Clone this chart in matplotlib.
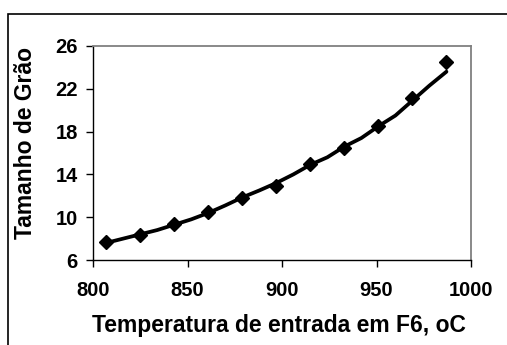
import matplotlib
matplotlib.use("Agg")
import matplotlib.pyplot as plt
from matplotlib.patches import Rectangle

# measured points (diamonds)
temp = [807, 825, 843, 861, 879, 897, 915, 933, 951, 969, 987]
grain = [7.7, 8.3, 9.4, 10.5, 11.8, 12.9, 15.0, 16.5, 18.55, 21.1, 24.5]

# smoothed curve drawn through the points
curve_temp = [807, 816, 825, 834, 843, 852, 861, 870, 879, 888, 897, 906,
              915, 924, 933, 942, 951, 960, 969, 978, 987]
curve_grain = [7.6, 8.0, 8.4, 8.8, 9.3, 9.8, 10.4, 11.1, 11.85, 12.5, 13.2, 14.0,
               14.9, 15.6, 16.6, 17.4, 18.5, 19.5, 20.9, 22.3, 23.6]

xticks = [800, 850, 900, 950, 1000]
yticks = [6, 10, 14, 18, 22, 26]

plt.rcParams['font.family'] = ['Liberation Sans', 'DejaVu Sans']
plt.rcParams['font.weight'] = 'bold'

fig = plt.figure(figsize=(5.07, 3.45), dpi=100)
ax = fig.add_axes([93/507, 1 - 260/345, (471-93)/507, (260-46)/345])

# outer frame of the chart area (runs off right and bottom)
fig.patches.append(Rectangle((8/507, -0.1), 1.2, 1 - 14/345 + 0.1,
                             transform=fig.transFigure, fill=False,
                             edgecolor='black', linewidth=1.2))

ax.plot(curve_temp, curve_grain, color='black', linewidth=2.7,
        solid_capstyle='round', zorder=2)
ax.plot(temp, grain, linestyle='none', marker='D', markersize=7,
        color='black', zorder=3)

ax.set_xlim(800, 1000)
ax.set_ylim(6, 26)
ax.set_xticks(xticks)
ax.set_yticks(yticks)
ax.tick_params(axis='both', direction='out', length=5, width=1, labelsize=14.5)
ax.tick_params(axis='x', pad=10)
ax.tick_params(axis='y', pad=6)

for s in ['left', 'bottom']:
    ax.spines[s].set_color('black')
    ax.spines[s].set_linewidth(1)
for s in ['top', 'right']:
    ax.spines[s].set_color('#808080')
    ax.spines[s].set_linewidth(1.3)

ax.set_xlabel("Temperatura de entrada em F6, oC", fontsize=16.5,
              fontweight='bold', va='center')
ax.set_ylabel("Tamanho de Grão", fontsize=16.5, fontweight='bold', va='center')
ax.xaxis.set_label_coords(0.493, -0.308)
ax.yaxis.set_label_coords(-0.178, 0.549)

fig.savefig("out.png", dpi=100)
